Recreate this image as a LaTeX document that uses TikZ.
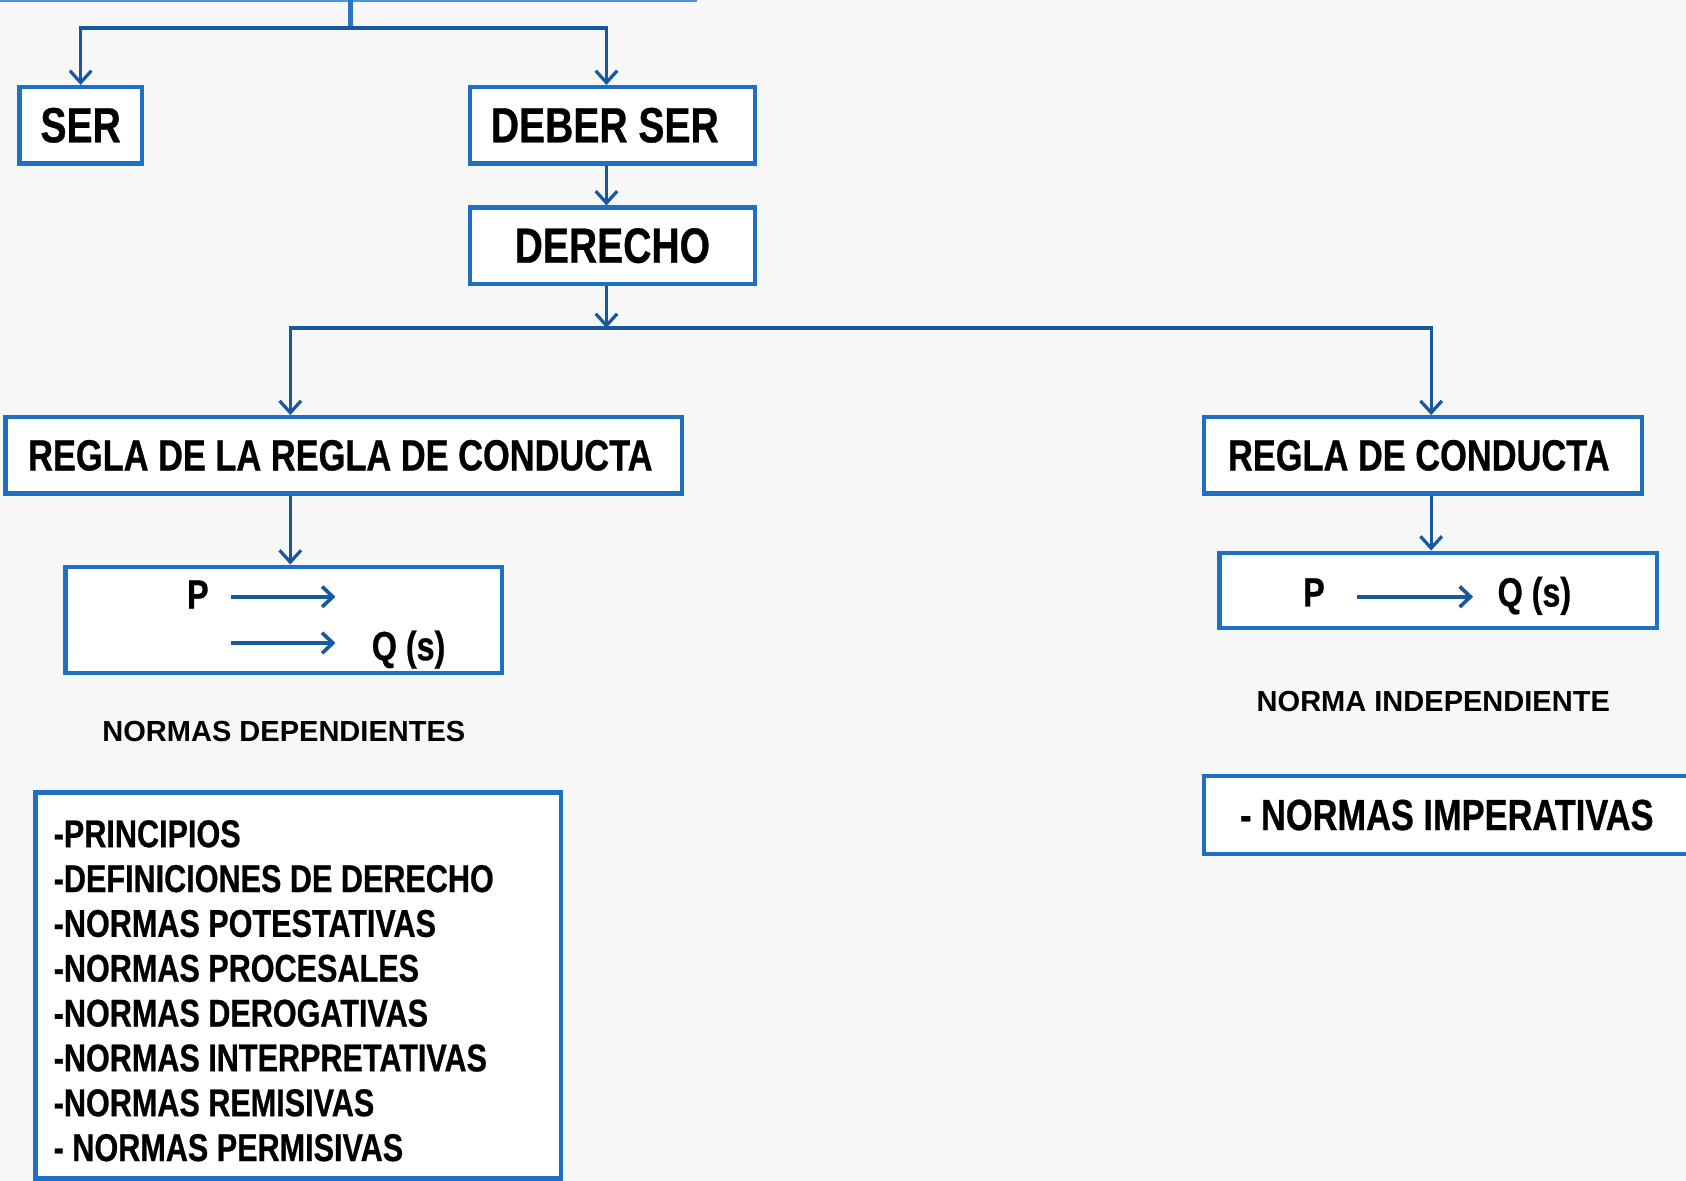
\documentclass[tikz,border=0pt]{standalone}
\usepackage{fontspec}
\setmainfont{Liberation Sans}
\newfontfamily\nar[FakeStretch=0.79, FakeBold=0.6]{Liberation Sans}
\usetikzlibrary{arrows.meta}
\definecolor{boxblue}{HTML}{1E6FC6}
\definecolor{linkblue}{HTML}{17589F}
\definecolor{bgcol}{HTML}{F7F7F7}
\definecolor{toplight}{HTML}{4F93DA}
\definecolor{stubblue}{HTML}{2A74C8}
\tikzset{
  box/.style={draw=boxblue, line width=4pt, fill=white, inner sep=0pt, text=black},
  bigtxt/.style={font=\nar\bfseries\fontsize{46}{50}\selectfont},
  midtxt/.style={font=\nar\bfseries\fontsize{40.5}{46}\selectfont},
  pqtxt/.style={font=\nar\bfseries\fontsize{38}{44}\selectfont, inner sep=0pt, anchor=base},
  smalltxt/.style={font=\bfseries\fontsize{27}{30}\selectfont, inner sep=0pt},
  conn/.style={draw=linkblue, line width=3pt, -{Straight Barb[length=11pt,width=20pt]}},
  plainline/.style={draw=linkblue, line width=3pt, line cap=rect},
  inarrow/.style={draw=linkblue, line width=3.4pt, -{Straight Barb[length=10pt,width=19pt]}},
}
\begin{document}
\begin{tikzpicture}[x=1pt,y=-1pt]
\fill[bgcol] (0,0) rectangle (1568,1098);
\useasboundingbox (0,0) rectangle (1568,1098);
% top fragments
\coordinate (t0) at (0,1);
\coordinate (t1) at (648,1);
\draw[toplight, line width=2pt] (t0) -- (t1);
\coordinate (top) at (326,0);
\coordinate (j1) at (326,26);
\draw[stubblue, line width=5pt] (top) -- (j1);
% boxes
\node[box, bigtxt, minimum width=114pt, minimum height=71pt] (ser) at (75,116.5) {SER};
\node[box, bigtxt, minimum width=265pt, minimum height=71pt] (deber) at (569.5,116.5) {DEBER SER\kern14pt};
\node[box, bigtxt, minimum width=265pt, minimum height=71pt] (derecho) at (569.5,228.5) {DERECHO};
\node[box, midtxt, minimum width=629pt, minimum height=71pt] (rrc) at (319.5,423.5) {REGLA DE LA REGLA DE CONDUCTA\kern6pt};
\node[box, midtxt, minimum width=407pt, minimum height=71pt] (rc) at (1323.5,423.5) {REGLA DE CONDUCTA\kern8pt};
\node[box, minimum width=406pt, minimum height=99pt] (pq1) at (264,576.5) {};
\node[box, minimum width=407pt, minimum height=70pt] (pq2) at (1337.5,549) {};
\node[box, font=\nar\bfseries\fontsize{36}{41.7}\selectfont, align=left, text width=455pt, inner xsep=17pt, minimum height=359pt] (list) at (277.5,916.5) {\spaceskip=0pt\xspaceskip=0pt\rule{0pt}{35pt}-PRINCIPIOS\\
-DEFINICIONES DE DERECHO\\
-NORMAS POTESTATIVAS\\
-NORMAS PROCESALES\\
-NORMAS DEROGATIVAS\\
-NORMAS INTERPRETATIVAS\\
-NORMAS REMISIVAS\\
- NORMAS PERMISIVAS};
\node[box, midtxt, minimum width=455pt, minimum height=72pt] (imp) at (1347.5,758) {- NORMAS IMPERATIVAS\kern4pt};
% connectors
\coordinate (jl) at (75,26);
\coordinate (jr) at (564,26);
\draw[plainline] (jl) -- (jr);
\draw[conn] (jl) -- (ser.north);
\draw[conn] (jr) -- (deber.north -| jr);
\draw[conn] (deber.south -| jr) -- (derecho.north -| jr);
\coordinate (j2) at (564,305);
\draw[conn] (derecho.south -| jr) -- (j2);
\coordinate (j2l) at (270,305);
\coordinate (j2r) at (1331,305);
\draw[plainline] (j2l) -- (j2r);
\draw[conn] (j2l) -- (rrc.north -| j2l);
\draw[conn] (j2r) -- (rc.north -| j2r);
\draw[conn] (rrc.south -| j2l) -- (pq1.north -| j2l);
\draw[conn] (rc.south -| j2r) -- (pq2.north -| j2r);
% inside left P/Q box
\node[pqtxt] (p1) at (184,566) {P};
\node[pqtxt] (q1) at (380,614) {Q (s)};
\coordinate (a1) at (215,555);
\coordinate (b1) at (312,555);
\coordinate (a2) at (215,598);
\coordinate (b2) at (312,598);
\draw[inarrow] (a1) -- (b1);
\draw[inarrow] (a2) -- (b2);
% inside right P/Q box
\node[pqtxt] (p2) at (1222,564) {P};
\node[pqtxt] (q2) at (1427,564) {Q (s)};
\coordinate (a3) at (1262,555);
\coordinate (b3) at (1370,555);
\draw[inarrow] (a3) -- (b3);
% labels
\node[smalltxt] (dep) at (264,680) {NORMAS DEPENDIENTES};
\node[smalltxt] (indep) at (1333,652) {NORMA INDEPENDIENTE};
\end{tikzpicture}
\end{document}
